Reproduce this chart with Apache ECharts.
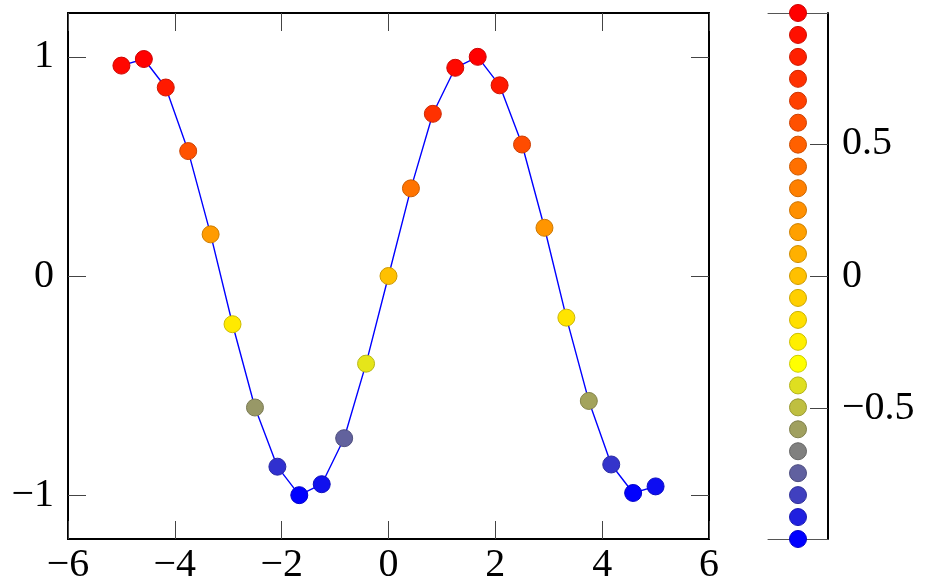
<!DOCTYPE html>
<html>
<head>
<meta charset="utf-8">
<script src="https://cdn.jsdelivr.net/npm/echarts@6/dist/echarts.min.js"></script>
<style>
html,body{margin:0;padding:0;background:#fff;}
#c{width:930px;height:587px;}
</style>
</head>
<body>
<div id="c"></div>
<script>
// ---- data ----
const xValues = [-5, -4.58, -4.17, -3.75, -3.33, -2.92, -2.5, -2.08, -1.67, -1.25, -0.83, -0.42, 0,
                 0.42, 0.83, 1.25, 1.67, 2.08, 2.5, 2.92, 3.33, 3.75, 4.17, 4.58, 5];
const yValues = [0.96, 0.99, 0.86, 0.57, 0.19, -0.22, -0.60, -0.87, -1.00, -0.95, -0.74, -0.40, 0,
                 0.40, 0.74, 0.95, 1.00, 0.87, 0.60, 0.22, -0.19, -0.57, -0.86, -0.99, -0.96];
const colorbarValues = [-0.995, -0.912, -0.829, -0.746, -0.663, -0.580, -0.497, -0.414, -0.332,
                        -0.249, -0.166, -0.083, 0, 0.083, 0.166, 0.249, 0.332, 0.414, 0.497,
                        0.580, 0.663, 0.746, 0.829, 0.912, 0.995];
const xTicks = [-6, -4, -2, 0, 2, 4, 6];
const yTicks = [-1, 0, 1];
const colorbarTicks = [-0.5, 0, 0.5];
const metaMin = -0.995, metaMax = 0.995;

// ---- colormap (blue, yellow, orange, red) ----
const cmap = [[0,0,255],[255,255,0],[255,128,0],[255,0,0]];
function mapColor(v, k) {
  let t = (v - metaMin) / (metaMax - metaMin);
  t = Math.max(0, Math.min(1, t)) * (cmap.length - 1);
  let i = Math.min(Math.floor(t), cmap.length - 2);
  const f = t - i;
  const c = cmap[i].map((a, j) => Math.round((a + (cmap[i+1][j] - a) * f) * k));
  return 'rgb(' + c.join(',') + ')';
}
function fmt(v) {
  return (v < 0 ? '\u2212' : '') + Math.abs(v);
}

const FONT = 'Liberation Serif';
const FS = 40;
const tickStyle = {color: '#444', width: 1};

const mainPts = xValues.map((x, i) => ({
  value: [x, yValues[i]],
  itemStyle: {color: mapColor(yValues[i], 1), borderColor: mapColor(yValues[i], 0.8), borderWidth: 1, opacity: 1}
}));
const cbPts = colorbarValues.map(v => ({
  value: [0.5, v],
  itemStyle: {color: mapColor(v, 1), borderColor: mapColor(v, 0.8), borderWidth: 1, opacity: 1}
}));

const chart = echarts.init(document.getElementById('c'), null, {renderer: 'canvas'});
chart.setOption({
  animation: false,
  grid: [
    {left: 68, top: 13, width: 641, height: 526, show: true, borderColor: '#000', borderWidth: 2, backgroundColor: 'transparent'},
    {left: 768, top: 13, width: 60, height: 526}
  ],
  xAxis: [
    {gridIndex: 0, type: 'value', min: -6, max: 6, position: 'bottom',
     axisLine: {show: false, onZero: false}, splitLine: {show: false},
     axisTick: {show: true, inside: true, length: 18, lineStyle: tickStyle, customValues: xTicks},
     axisLabel: {show: true, margin: 6, fontFamily: FONT, fontSize: FS, color: '#000', customValues: xTicks, formatter: fmt}},
    {gridIndex: 0, type: 'value', min: -6, max: 6, position: 'top',
     axisLine: {show: false, onZero: false}, splitLine: {show: false},
     axisTick: {show: true, inside: true, length: 18, lineStyle: tickStyle, customValues: xTicks},
     axisLabel: {show: false}},
    {gridIndex: 1, type: 'value', min: 0, max: 1, position: 'bottom',
     axisLine: {show: true, onZero: false, lineStyle: {color: '#555', width: 1}}, splitLine: {show: false},
     axisTick: {show: false}, axisLabel: {show: false}},
    {gridIndex: 1, type: 'value', min: 0, max: 1, position: 'top',
     axisLine: {show: true, onZero: false, lineStyle: {color: '#555', width: 1}}, splitLine: {show: false},
     axisTick: {show: false}, axisLabel: {show: false}}
  ],
  yAxis: [
    {gridIndex: 0, type: 'value', min: -1.2, max: 1.2, position: 'left',
     axisLine: {show: false, onZero: false}, splitLine: {show: false},
     axisTick: {show: true, inside: true, length: 18, lineStyle: tickStyle, customValues: yTicks},
     axisLabel: {show: true, margin: 14, fontFamily: FONT, fontSize: FS, color: '#000', customValues: yTicks, formatter: fmt}},
    {gridIndex: 0, type: 'value', min: -1.2, max: 1.2, position: 'right',
     axisLine: {show: false, onZero: false}, splitLine: {show: false},
     axisTick: {show: true, inside: true, length: 18, lineStyle: tickStyle, customValues: yTicks},
     axisLabel: {show: false}},
    {gridIndex: 1, type: 'value', min: metaMin, max: metaMax, position: 'right',
     axisLine: {show: true, onZero: false, lineStyle: {color: '#000', width: 2}}, splitLine: {show: false},
     axisTick: {show: true, inside: true, length: 18, lineStyle: tickStyle, customValues: colorbarTicks},
     axisLabel: {show: true, margin: 14, fontFamily: FONT, fontSize: FS, color: '#000', customValues: colorbarTicks, formatter: fmt}}
  ],
  series: [
    {type: 'line', xAxisIndex: 0, yAxisIndex: 0, data: xValues.map((x, i) => [x, yValues[i]]),
     showSymbol: false, symbol: 'none', lineStyle: {color: '#0000ff', width: 1.4}, z: 2},
    {type: 'scatter', xAxisIndex: 0, yAxisIndex: 0, data: mainPts, symbolSize: 17, z: 3},
    {type: 'scatter', xAxisIndex: 2, yAxisIndex: 2, data: cbPts, symbolSize: 17, z: 3}
  ]
});
</script>
</body>
</html>
